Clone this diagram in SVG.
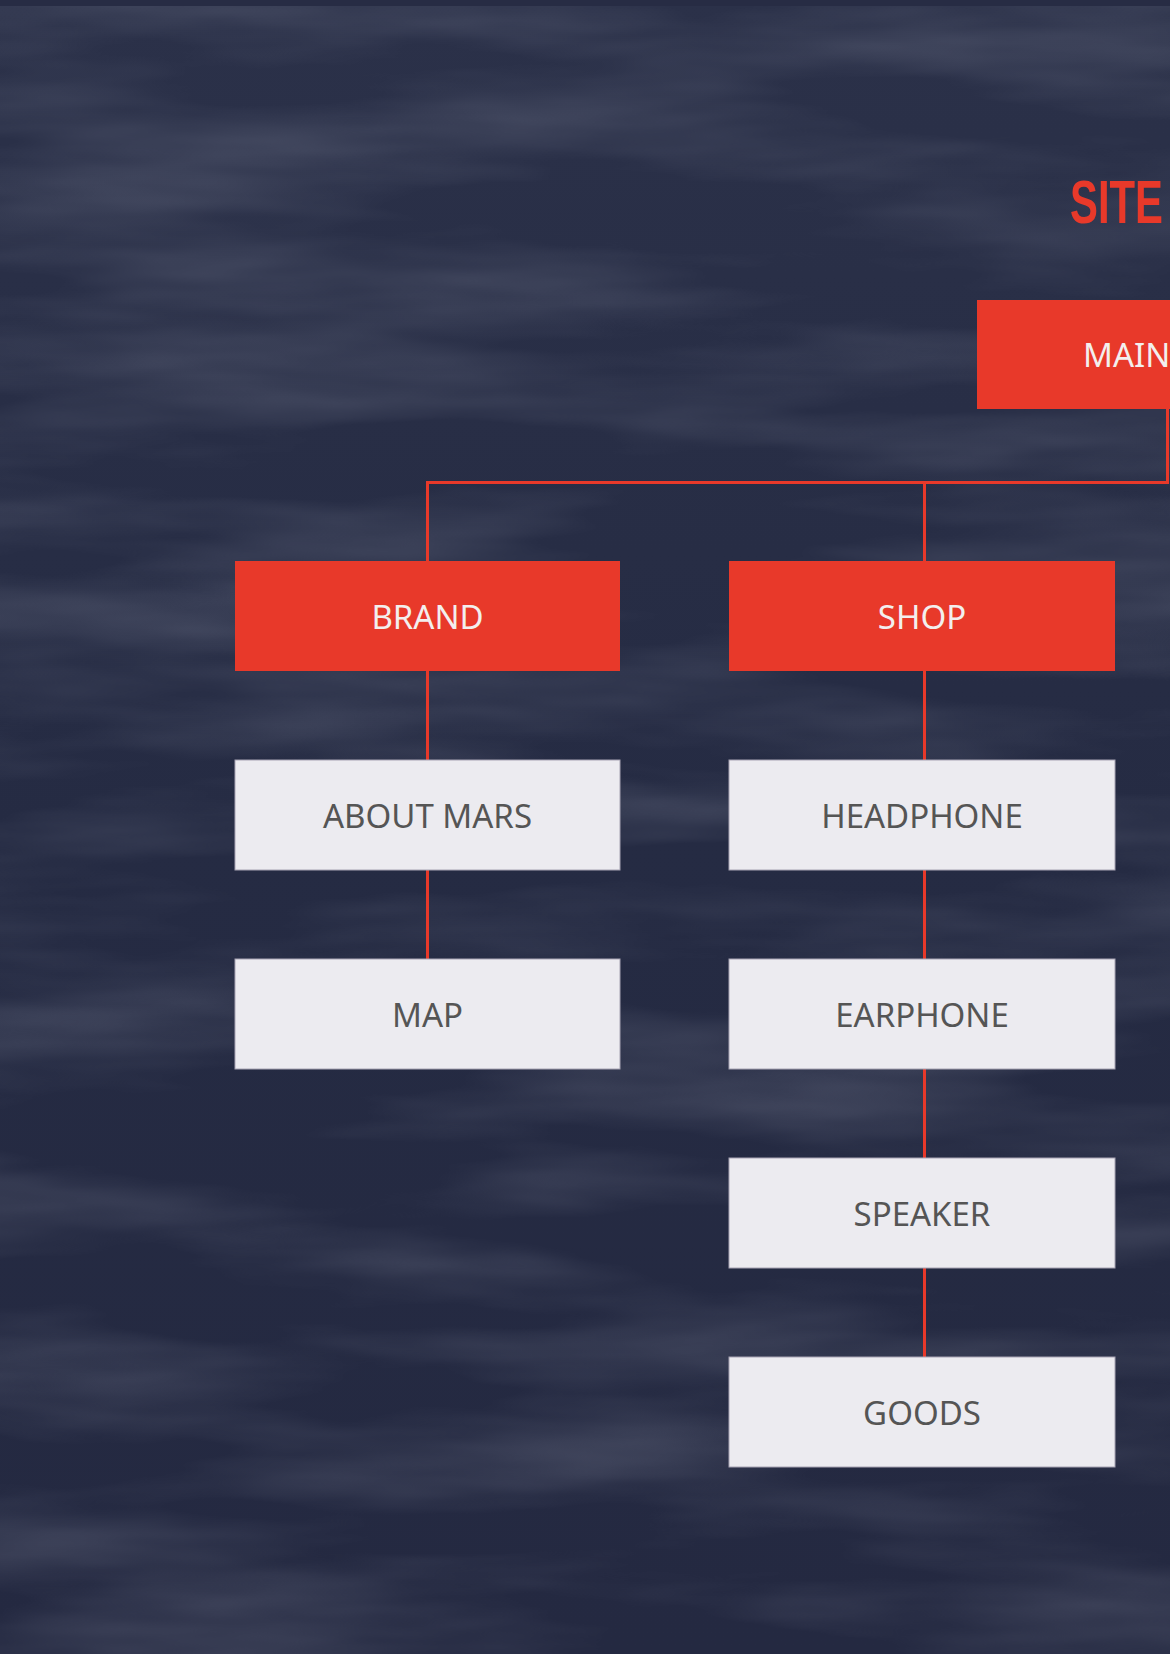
<svg xmlns="http://www.w3.org/2000/svg" width="1170" height="1654" viewBox="0 0 1170 1654">
  <defs>
    <filter id="water" x="0" y="0" width="100%" height="100%">
      <feTurbulence type="fractalNoise" baseFrequency="0.002 0.012" numOctaves="4" seed="7" result="n"/>
      <feColorMatrix in="n" type="matrix" values="0 0 0 0 0.75  0 0 0 0 0.78  0 0 0 0 0.9  0.32 0 0 0 -0.13"/>
    </filter>
    <linearGradient id="bg" x1="0" y1="0" x2="0" y2="1">
      <stop offset="0" stop-color="#2b3149"/>
      <stop offset="0.5" stop-color="#252b43"/>
      <stop offset="1" stop-color="#242941"/>
    </linearGradient>
    <style>
      .red { fill: #e8392a; }
      .light { fill: #ecebf0; stroke: #a7a3b3; stroke-width: 1; }
      .lbl { font-family: "Noto Sans", "Open Sans", sans-serif; font-size: 33px; text-anchor: middle; }
      .lblR { fill: #f3efee; }
      .lblL { fill: #555555; }
      .conn { stroke: #e8392a; stroke-width: 3; fill: none; }
    </style>
  </defs>

  <rect x="0" y="0" width="1170" height="1654" fill="url(#bg)"/>
  <rect x="0" y="0" width="1170" height="1654" filter="url(#water)"/>
  <rect x="0" y="0" width="1170" height="6" fill="#272c44"/>

  <text x="1070" y="223" font-family="'Liberation Sans', Arial, sans-serif" font-weight="bold" font-size="62" fill="#e8392a" textLength="93" lengthAdjust="spacingAndGlyphs">SITE</text>

  <g id="connectors">
    <polyline class="conn" points="1167.5,409 1167.5,482.5 427.5,482.5 427.5,561"/>
    <line class="conn" x1="924.5" y1="482" x2="924.5" y2="561"/>
    <line class="conn" x1="427.5" y1="671" x2="427.5" y2="760"/>
    <line class="conn" x1="427.5" y1="870" x2="427.5" y2="959"/>
    <line class="conn" x1="924.5" y1="671" x2="924.5" y2="760"/>
    <line class="conn" x1="924.5" y1="870" x2="924.5" y2="959"/>
    <line class="conn" x1="924.5" y1="1069" x2="924.5" y2="1158"/>
    <line class="conn" x1="924.5" y1="1268" x2="924.5" y2="1357"/>
  </g>

  <g id="main">
    <rect class="red" x="977" y="300" width="220" height="109"/>
    <text class="lbl lblR" x="1083" y="367" style="text-anchor:start">MAIN</text>
  </g>
  <g id="brand">
    <rect class="red" x="235" y="561" width="385" height="110"/>
    <text class="lbl lblR" x="427.5" y="629">BRAND</text>
  </g>
  <g id="shop">
    <rect class="red" x="729" y="561" width="386" height="110"/>
    <text class="lbl lblR" x="922" y="629">SHOP</text>
  </g>
  <g id="about-mars">
    <rect class="light" x="235" y="760" width="385" height="110"/>
    <text class="lbl lblL" x="427.5" y="828">ABOUT MARS</text>
  </g>
  <g id="map">
    <rect class="light" x="235" y="959" width="385" height="110"/>
    <text class="lbl lblL" x="427.5" y="1027">MAP</text>
  </g>
  <g id="headphone">
    <rect class="light" x="729" y="760" width="386" height="110"/>
    <text class="lbl lblL" x="922" y="828">HEADPHONE</text>
  </g>
  <g id="earphone">
    <rect class="light" x="729" y="959" width="386" height="110"/>
    <text class="lbl lblL" x="922" y="1027">EARPHONE</text>
  </g>
  <g id="speaker">
    <rect class="light" x="729" y="1158" width="386" height="110"/>
    <text class="lbl lblL" x="922" y="1226">SPEAKER</text>
  </g>
  <g id="goods">
    <rect class="light" x="729" y="1357" width="386" height="110"/>
    <text class="lbl lblL" x="922" y="1425">GOODS</text>
  </g>
</svg>
